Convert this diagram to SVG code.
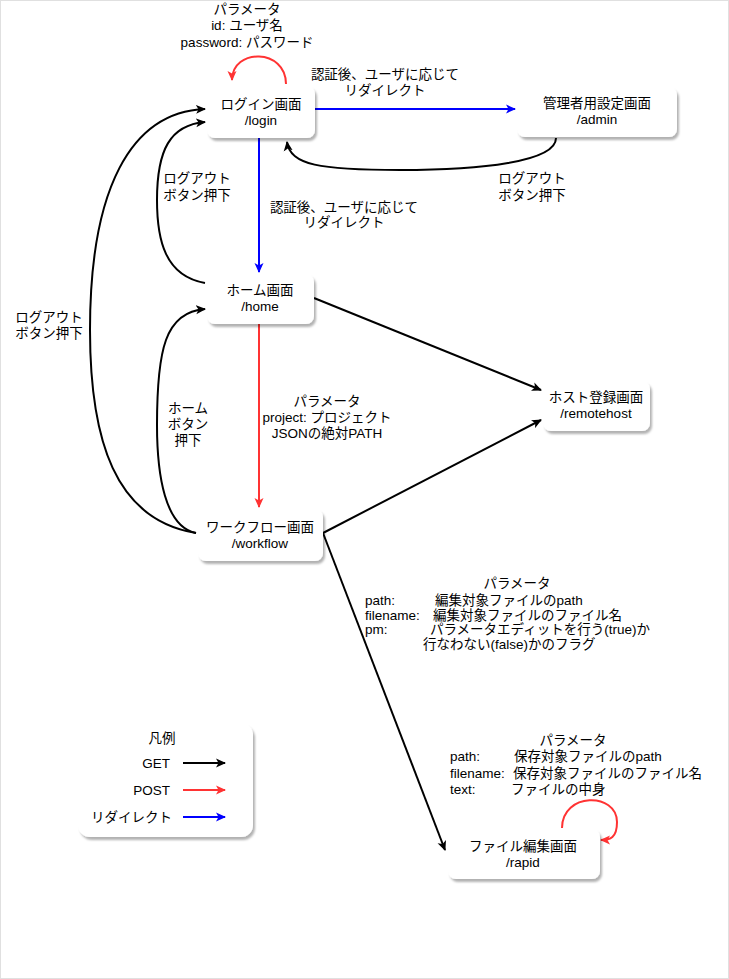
<svg xmlns="http://www.w3.org/2000/svg" width="729" height="979" viewBox="0 0 729 979">
<style>
text{font-family:"Liberation Sans","Noto Sans CJK JP",sans-serif;font-size:13.5px;fill:#000}
.c{text-anchor:middle}
.e{text-anchor:end}
.node{fill:#fff;stroke:none;filter:url(#sh)}
.k{fill:none;stroke:#000;stroke-width:2}
.r{fill:none;stroke:#FF3333;stroke-width:2}
.b{fill:none;stroke:#0000FF;stroke-width:2}
</style>
<defs>
<filter id="sh" x="-10%" y="-10%" width="130%" height="140%">
<feDropShadow dx="2" dy="3" stdDeviation="1.2" flood-color="#000" flood-opacity="0.3"/>
</filter>
<marker id="ak" markerWidth="10" markerHeight="10" refX="9" refY="5" orient="auto" markerUnits="userSpaceOnUse"><path d="M0,0.5 L10,5 L0,9.5 L2.5,5 Z" fill="#000"/></marker>
<marker id="ar" markerWidth="10" markerHeight="10" refX="9" refY="5" orient="auto" markerUnits="userSpaceOnUse"><path d="M0,0.5 L10,5 L0,9.5 L2.5,5 Z" fill="#FF3333"/></marker>
<marker id="ab" markerWidth="10" markerHeight="10" refX="9" refY="5" orient="auto" markerUnits="userSpaceOnUse"><path d="M0,0.5 L10,5 L0,9.5 L2.5,5 Z" fill="#0000FF"/></marker>
</defs>
<rect x="0.5" y="0.5" width="728" height="978" fill="#fff" stroke="#e0e0e0"/>

<g id="connectors">
<path class="r" d="M286,84 C286,48 232,48 232,80" marker-end="url(#ar)"/>
<path class="b" d="M315,109 L515,109" marker-end="url(#ab)"/>
<path class="k" d="M556,138 C556,162 480,170 400,170 C320,170 290,165 287,142" marker-end="url(#ak)"/>
<path class="b" d="M259,138 L259,272" marker-end="url(#ab)"/>
<path class="k" d="M205,283 C165,276 157,240 157,200 C157,150 170,125 205,122" marker-end="url(#ak)"/>
<path class="k" d="M196,533 C115,520 90,440 90,330 C90,190 130,112 205,109" marker-end="url(#ak)"/>
<path class="k" d="M196,533 C165,527 157,475 157,425 C157,350 165,312 205,309" marker-end="url(#ak)"/>
<path class="r" d="M259,324 L259,507" marker-end="url(#ar)"/>
<path class="k" d="M314,298 L541,390" marker-end="url(#ak)"/>
<path class="k" d="M323,533 L541,420" marker-end="url(#ak)"/>
<path class="k" d="M323,533 L445,850" marker-end="url(#ak)"/>
<path class="r" d="M562,828 C562,792 617,792 617,822 C617,838 610,840 601,840" marker-end="url(#ar)"/>
</g>

<g id="labels">
<text class="c" x="247" y="14">パラメータ</text>
<text class="c" x="247" y="30">id: ユーザ名</text>
<text class="c" x="247" y="47">password: パスワード</text>
<text class="c" x="385" y="79">認証後、ユーザに応じて</text>
<text class="c" x="385" y="95">リダイレクト</text>
<text class="c" x="532" y="183">ログアウト</text>
<text class="c" x="532" y="200">ボタン押下</text>
<text class="c" x="197" y="183">ログアウト</text>
<text class="c" x="197" y="200">ボタン押下</text>
<text class="c" x="344" y="212">認証後、ユーザに応じて</text>
<text class="c" x="344" y="227">リダイレクト</text>
<text class="c" x="49" y="322">ログアウト</text>
<text class="c" x="49" y="338">ボタン押下</text>
<text class="c" x="188" y="413">ホーム</text>
<text class="c" x="188" y="429">ボタン</text>
<text class="c" x="188" y="445">押下</text>
<text class="c" x="327" y="406">パラメータ</text>
<text class="c" x="327" y="422">project: プロジェクト</text>
<text class="c" x="327" y="438">JSONの絶対PATH</text>
<text class="c" x="517" y="588">パラメータ</text>
<text x="365" y="605">path:</text>
<text x="435" y="605">編集対象ファイルのpath</text>
<text x="365" y="620">filename:</text>
<text x="433" y="620">編集対象ファイルのファイル名</text>
<text x="365" y="634">pm:</text>
<text x="430" y="634">パラメータエディットを行う(true)か</text>
<text x="423" y="649">行なわない(false)かのフラグ</text>
<text class="c" x="573" y="745">パラメータ</text>
<text x="450" y="761">path:</text>
<text x="514" y="761">保存対象ファイルのpath</text>
<text x="450" y="778">filename:</text>
<text x="513" y="778">保存対象ファイルのファイル名</text>
<text x="450" y="794">text:</text>
<text x="511" y="794">ファイルの中身</text>
</g>

<g id="login">
<rect class="node" x="207" y="86" width="108" height="52" rx="8"/>
<text class="c" x="261" y="109">ログイン画面</text>
<text class="c" x="261" y="125">/login</text>
</g>
<g id="admin">
<rect class="node" x="517" y="87" width="160" height="50" rx="8"/>
<text class="c" x="597" y="108">管理者用設定画面</text>
<text class="c" x="597" y="124">/admin</text>
</g>
<g id="home">
<rect class="node" x="207" y="274" width="107" height="50" rx="8"/>
<text class="c" x="260" y="295">ホーム画面</text>
<text class="c" x="260" y="311">/home</text>
</g>
<g id="remotehost">
<rect class="node" x="543" y="381" width="107" height="50" rx="8"/>
<text class="c" x="596" y="402">ホスト登録画面</text>
<text class="c" x="596" y="418">/remotehost</text>
</g>
<g id="workflow">
<rect class="node" x="198" y="509" width="125" height="52" rx="8"/>
<text class="c" x="260" y="532">ワークフロー画面</text>
<text class="c" x="260" y="548">/workflow</text>
</g>
<g id="rapid">
<rect class="node" x="448" y="829" width="152" height="50" rx="8"/>
<text class="c" x="523" y="851">ファイル編集画面</text>
<text class="c" x="523" y="867">/rapid</text>
</g>
<g id="legend">
<rect class="node" x="78" y="723" width="175" height="114" rx="12"/>
<text class="c" x="162" y="743">凡例</text>
<text class="e" x="170" y="768">GET</text>
<path class="k" d="M183,763 L225,763" marker-end="url(#ak)"/>
<text class="e" x="170" y="795">POST</text>
<path class="r" d="M183,790 L225,790" marker-end="url(#ar)"/>
<text class="e" x="172" y="822">リダイレクト</text>
<path class="b" d="M183,817 L225,817" marker-end="url(#ab)"/>
</g>
</svg>
